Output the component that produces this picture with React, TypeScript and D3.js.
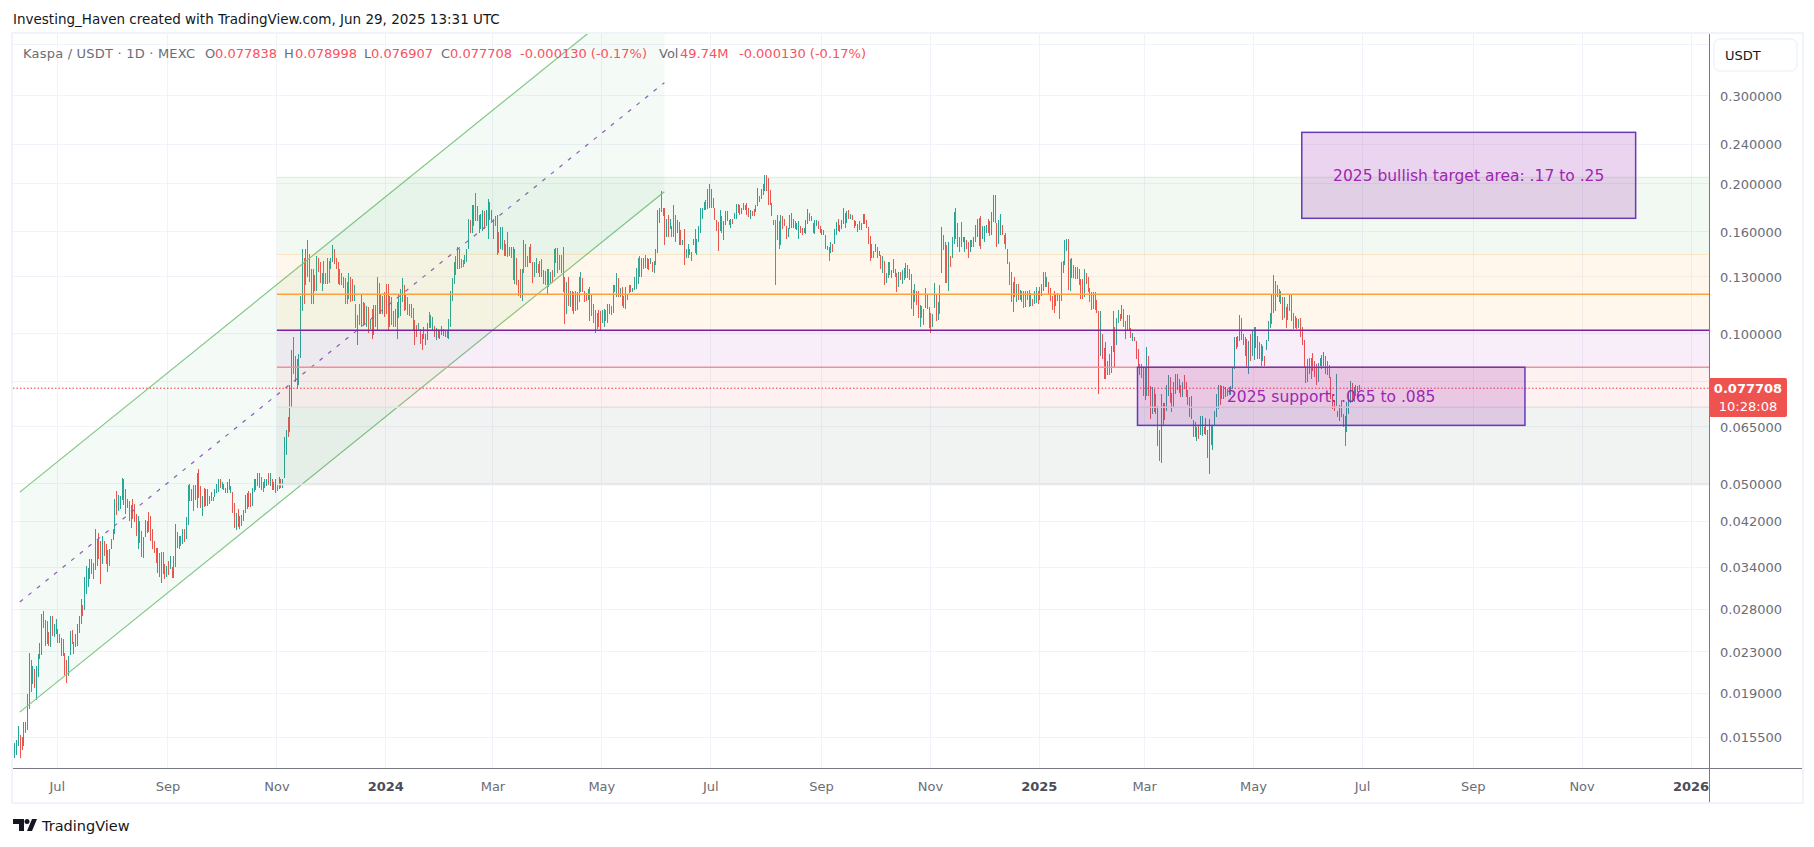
import React from 'react';
import * as d3 from 'd3';

// daily bars as [high, low, close], prices in 1e-4 USDT. open is the previous close
type Bar = [number, number, number];

const jun23: Bar[] = [[151,141,148],[153,143,150],[163,149,160],[157,141,150],[155,146,148],[166,149,163],[166,158,165],[189,160,186],[229,177,225],[222,191,195],[215,198,210],[212,195,200],[215,184,208],[228,205,225],[240,223,236],[274,227,268],[278,257,262],[266,236,245],[265,238,242],[252,236,239],[271,235,265],[272,247,250],[261,246,255],[268,250,262]];
const jul23: Bar[] = [[255,240,244],[250,240,241],[245,226,232],[244,226,228],[229,207,212],[222,199,204],[226,206,224],[253,227,250],[254,238,238],[241,228,240],[250,235,236],[261,236,258],[271,251,268],[293,262,288],[285,271,274],[325,279,320],[342,301,330],[338,310,336],[353,322,350],[353,329,335],[346,322,342],[405,335,378],[388,342,384],[398,353,360],[383,315,345],[393,345,388],[384,358,362],[378,345,350],[368,333,340],[370,342,365],[388,369,385]];
const aug23: Bar[] = [[405,386,402],[466,397,460],[483,433,445],[475,441,470],[473,445,472],[514,463,505],[512,453,470],[488,435,445],[466,447,462],[461,421,432],[453,407,445],[465,425,432],[455,418,425],[435,392,400],[430,369,415],[421,380,388],[402,356,362],[390,355,385],[423,390,415],[421,398,419],[439,400,410],[430,384,392],[405,369,376],[384,363,368],[372,347,355],[371,331,362],[363,325,338],[365,316,350],[365,330,338],[345,322,330],[342,325,338]];
const sep23: Bar[] = [[350,328,332],[358,337,340],[340,324,328],[358,323,352],[415,340,405],[400,372,380],[393,369,372],[393,375,388],[405,378,400],[405,382,390],[428,388,420],[496,414,485],[500,461,470],[488,461,482],[498,441,455],[496,463,485],[525,447,505],[534,469,480],[495,447,455],[472,430,465],[490,450,455],[488,452,478],[488,452,460],[472,455,458],[482,462,475],[470,462,468],[488,470,482],[500,480,495],[512,482,508],[512,490,495]];
const oct23: Bar[] = [[505,488,500],[500,485,496],[490,480,483],[505,478,500],[510,485,490],[495,478,492],[481,437,445],[458,408,415],[437,403,430],[445,410,418],[430,405,425],[432,412,428],[442,420,436],[475,437,470],[478,445,474],[483,450,455],[478,450,452],[490,452,485],[512,482,503],[510,485,506],[525,495,515],[526,490,520],[515,485,495],[505,482,488],[510,490,505],[512,495,508],[525,497,500],[525,495,515],[510,485,490],[505,485,487],[510,480,500]];
const nov23: Bar[] = [[500,484,492],[515,488,508],[512,490,495],[510,490,500],[620,514,612],[640,570,630],[680,620,625],[790,634,780],[925,710,915],[985,830,870],[900,800,830],[890,775,800],[910,790,890],[1190,895,1170],[1480,1110,1400],[1420,1145,1200],[1475,1250,1440],[1540,1300,1500],[1445,1270,1300],[1350,1145,1200],[1350,1145,1340],[1310,1220,1260],[1430,1220,1400],[1420,1330,1350],[1395,1265,1290],[1320,1220,1300],[1400,1260,1280],[1320,1260,1265],[1420,1260,1400],[1400,1265,1390]];
const dec23: Bar[] = [[1420,1350,1395],[1505,1390,1480],[1475,1380,1400],[1420,1350,1360],[1390,1260,1280],[1350,1250,1265],[1320,1250,1255],[1300,1235,1275],[1295,1145,1170],[1270,1145,1250],[1320,1175,1290],[1300,1155,1180],[1285,1165,1175],[1250,1165,1230],[1145,1025,1040],[1090,950,1060],[1145,1040,1050],[1195,1030,1150],[1155,1040,1060],[1150,1045,1055],[1135,1030,1100],[1130,1005,1015],[1070,1020,1040],[1120,975,1000],[1140,995,1100],[1140,1030,1120],[1300,1015,1270],[1265,1095,1150],[1195,1095,1110],[1190,1095,1165],[1210,1080,1150]];
const jan24: Bar[] = [[1260,1095,1130],[1260,1010,1050],[1190,1030,1110],[1185,1040,1060],[1110,1030,1040],[1120,1030,1080],[1155,975,1090],[1195,1075,1090],[1230,1085,1190],[1290,1155,1260],[1250,1110,1130],[1195,1115,1125],[1185,1090,1100],[1145,1085,1130],[1145,1075,1085],[1125,1015,1030],[1065,950,1010],[1040,985,1000],[1050,1010,1015],[1020,955,985],[1000,925,945],[1030,975,990],[1000,950,995],[1050,970,1040],[1105,1025,1035],[1090,1025,1050],[1080,1010,1070],[1035,985,1000],[1025,970,1015],[1020,980,990],[1010,975,1000]];
const feb24: Bar[] = [[1035,995,1000],[1020,990,1015],[1012,985,990],[1010,980,985],[1070,975,1060],[1220,1030,1200],[1290,1165,1240],[1390,1260,1370],[1430,1310,1400],[1490,1350,1460],[1480,1350,1470],[1410,1355,1390],[1405,1360,1380],[1440,1380,1420],[1480,1390,1470],[1695,1475,1650],[1690,1590,1640],[1815,1590,1780],[1815,1640,1790],[1910,1680,1720],[1800,1680,1690],[1730,1590,1630],[1740,1620,1660],[1770,1605,1700],[1760,1620,1650],[1770,1640,1720],[1860,1550,1790],[1835,1690,1720],[1770,1680,1700]];
const mar24: Bar[] = [[1700,1550,1590],[1720,1640,1700],[1730,1440,1480],[1600,1450,1470],[1635,1475,1490],[1635,1470,1620],[1540,1430,1450],[1510,1430,1490],[1600,1425,1460],[1490,1430,1440],[1490,1420,1430],[1490,1280,1320],[1475,1255,1380],[1420,1250,1300],[1280,1190,1200],[1350,1180,1190],[1350,1160,1280],[1540,1325,1500],[1510,1360,1380],[1430,1360,1370],[1490,1385,1470],[1510,1385,1410],[1390,1265,1300],[1390,1300,1320],[1415,1325,1390],[1380,1320,1330],[1400,1300,1385],[1410,1300,1310],[1340,1260,1320],[1338,1250,1270],[1350,1195,1215]];
const apr24: Bar[] = [[1345,1240,1290],[1330,1260,1310],[1340,1265,1280],[1475,1300,1440],[1485,1385,1460],[1485,1320,1400],[1440,1340,1370],[1440,1320,1350],[1490,1210,1230],[1300,1045,1090],[1270,1095,1220],[1300,1135,1180],[1215,1130,1190],[1215,1110,1125],[1210,1095,1180],[1215,1110,1130],[1210,1115,1190],[1300,1155,1240],[1330,1210,1300],[1295,1210,1230],[1215,1155,1170],[1205,1160,1165],[1230,1170,1190],[1240,1060,1200],[1195,1085,1100],[1145,1050,1060],[1115,1005,1020],[1100,1020,1030],[1115,1030,1025],[1110,1010,1015]];
const may24: Bar[] = [[1115,1050,1060],[1120,1030,1090],[1115,1062,1070],[1145,1048,1130],[1145,1095,1138],[1135,1090,1095],[1250,1100,1230],[1250,1210,1240],[1325,1185,1300],[1295,1185,1200],[1235,1185,1225],[1240,1135,1150],[1190,1125,1180],[1240,1120,1210],[1200,1170,1195],[1250,1205,1240],[1250,1210,1220],[1235,1210,1230],[1300,1225,1290],[1355,1230,1340],[1420,1260,1400],[1430,1300,1330],[1420,1300,1400],[1420,1350,1370],[1440,1355,1360],[1415,1350,1355],[1410,1340,1345],[1415,1380,1400],[1395,1330,1340],[1400,1320,1380],[1480,1370,1460]];
const jun24: Bar[] = [[1770,1450,1720],[1785,1670,1760],[1930,1755,1755],[1790,1725,1740],[1790,1505,1540],[1700,1560,1680],[1730,1560,1600],[1700,1620,1680],[1640,1560,1620],[1810,1560,1780],[1730,1525,1600],[1690,1590,1660],[1675,1505,1530],[1615,1505,1510],[1540,1505,1535],[1620,1370,1420],[1480,1420,1470],[1510,1415,1480],[1475,1435,1440],[1460,1400,1450],[1550,1505,1530],[1620,1450,1500],[1550,1435,1540],[1640,1530,1620],[1790,1590,1750],[1790,1700,1770],[1835,1770,1820],[1850,1770,1790],[1950,1780,1900],[2000,1785,1950]];
const jul24: Bar[] = [[1950,1790,1830],[1870,1785,1795],[1790,1690,1710],[1690,1605,1620],[1675,1465,1560],[1770,1605,1720],[1725,1590,1610],[1680,1540,1660],[1765,1650,1740],[1760,1680,1700],[1690,1655,1680],[1695,1625,1690],[1700,1660,1670],[1745,1695,1725],[1820,1700,1790],[1820,1745,1760],[1810,1730,1780],[1785,1740,1782],[1825,1770,1800],[1810,1770,1780],[1825,1730,1760],[1790,1710,1730],[1770,1700,1750],[1760,1725,1735],[1775,1720,1725],[1810,1750,1790],[1960,1800,1940],[1890,1840,1850],[1950,1860,1920],[2000,1900,1980],[2080,1935,2060]];
const aug24: Bar[] = [[2080,1935,1960],[2050,1815,1850],[1945,1810,1820],[1830,1720,1735],[1690,1650,1660],[1690,1250,1560],[1730,1540,1680],[1680,1475,1520],[1730,1505,1680],[1720,1620,1650],[1700,1640,1645],[1640,1545,1575],[1630,1560,1610],[1730,1620,1700],[1745,1630,1650],[1700,1630,1680],[1685,1620,1640],[1665,1610,1655],[1680,1545,1670],[1640,1590,1600],[1625,1580,1590],[1625,1590,1620],[1690,1585,1680],[1775,1660,1760],[1745,1685,1700],[1720,1680,1690],[1665,1590,1600],[1690,1585,1670],[1690,1640,1680],[1680,1620,1640],[1640,1590,1600]];
const sep24: Bar[] = [[1620,1580,1610],[1610,1575,1590],[1575,1480,1560],[1500,1470,1480],[1490,1400,1420],[1525,1450,1510],[1515,1460,1505],[1620,1515,1600],[1675,1575,1650],[1700,1605,1620],[1650,1600,1640],[1690,1620,1680],[1790,1660,1700],[1745,1630,1660],[1760,1670,1740],[1770,1700,1710],[1740,1700,1730],[1730,1690,1695],[1690,1625,1640],[1680,1640,1645],[1660,1600,1650],[1680,1610,1670],[1670,1610,1620],[1740,1660,1700],[1740,1660,1680],[1690,1630,1640],[1635,1515,1530],[1570,1400,1430],[1510,1415,1440],[1465,1420,1460]];
const oct24: Bar[] = [[1510,1460,1490],[1495,1415,1430],[1465,1430,1440],[1435,1350,1370],[1430,1320,1400],[1400,1250,1290],[1320,1265,1310],[1395,1295,1320],[1395,1310,1315],[1340,1290,1330],[1410,1320,1380],[1350,1300,1310],[1320,1210,1240],[1330,1240,1290],[1330,1280,1285],[1340,1260,1330],[1355,1280,1350],[1385,1290,1370],[1370,1295,1310],[1345,1280,1290],[1315,1120,1150],[1225,1085,1180],[1255,1155,1220],[1220,1140,1160],[1220,1075,1090],[1140,1030,1100],[1135,1075,1085],[1120,1040,1100],[1235,1125,1200],[1195,1120,1130],[1130,1025,1040]];
const nov24: Bar[] = [[1100,1005,1015],[1095,1030,1080],[1265,1125,1240],[1200,1060,1090],[1155,1065,1100],[1250,1095,1220],[1635,1320,1580],[1575,1470,1500],[1530,1265,1480],[1505,1265,1300],[1525,1220,1440],[1430,1360,1400],[1560,1415,1500],[1755,1515,1720],[1785,1550,1600],[1670,1490,1520],[1560,1460,1550],[1675,1490,1510],[1560,1525,1530],[1560,1460,1540],[1540,1480,1490],[1525,1415,1450],[1540,1460,1520],[1540,1490,1500],[1560,1490,1550],[1650,1525,1630],[1700,1560,1650],[1705,1500,1680],[1720,1480,1550],[1640,1545,1620]];
const dec24: Bar[] = [[1640,1530,1630],[1650,1590,1640],[1700,1590,1620],[1680,1570,1660],[1755,1575,1720],[1893,1675,1860],[1893,1670,1700],[1670,1490,1600],[1690,1515,1640],[1735,1575,1650],[1650,1575,1590],[1580,1515,1570],[1590,1480,1500],[1480,1380,1400],[1395,1250,1290],[1330,1155,1190],[1270,1105,1220],[1300,1185,1200],[1255,1155,1230],[1255,1170,1185],[1225,1170,1210],[1215,1155,1170],[1220,1125,1140],[1215,1130,1200],[1215,1170,1180],[1225,1130,1150],[1205,1135,1170],[1175,1135,1140],[1215,1145,1190],[1240,1150,1210],[1215,1145,1190]];
const jan25: Bar[] = [[1240,1170,1215],[1260,1190,1240],[1330,1220,1300],[1330,1240,1250],[1300,1240,1280],[1270,1200,1220],[1235,1165,1180],[1190,1115,1170],[1215,1100,1120],[1195,1135,1180],[1205,1165,1175],[1195,1070,1090],[1395,1165,1350],[1400,1320,1370],[1540,1370,1480],[1545,1465,1530],[1550,1225,1300],[1410,1220,1380],[1415,1295,1340],[1370,1295,1310],[1360,1285,1300],[1360,1285,1340],[1350,1250,1270],[1285,1175,1190],[1285,1175,1180],[1350,1185,1300],[1320,1260,1270],[1300,1210,1220],[1235,1155,1170],[1210,1115,1130],[1210,1120,1140]];
const feb25: Bar[] = [[1210,1115,1130],[1170,1100,1120],[1110,757,860],[1110,900,950],[1000,890,900],[935,810,830],[960,810,900],[880,825,850],[910,825,840],[945,835,900],[1110,920,1060],[1030,855,920],[1075,950,1000],[1115,1050,1090],[1095,1062,1070],[1140,1070,1120],[1120,1030,1050],[1062,975,1000],[1090,1010,1070],[1090,1015,1040],[1025,980,990],[1005,965,1000],[985,965,970],[965,890,900],[930,855,870],[870,825,830],[870,815,825],[855,750,780]];
const mar25: Bar[] = [[855,735,800],[940,750,880],[900,750,770],[785,675,700],[780,690,730],[775,695,710],[755,690,700],[715,595,610],[640,555,570],[755,550,720],[725,655,680],[725,670,675],[790,700,770],[825,750,800],[820,725,745],[760,695,740],[800,710,780],[830,755,810],[830,770,785],[810,760,770],[790,745,760],[800,745,790],[825,775,785],[800,745,750],[770,720,730],[745,680,700],[750,675,690],[670,620,640],[665,620,630],[650,610,640],[655,615,625]];
const apr25: Bar[] = [[685,625,660],[682,622,670],[650,628,640],[677,625,630],[640,562,575],[675,522,640],[655,597,610],[655,583,640],[700,652,690],[757,680,740],[790,707,770],[790,720,730],[785,740,770],[785,740,750],[780,745,772],[775,750,755],[780,752,770],[785,752,780],[855,775,840],[985,850,960],[985,930,940],[990,940,980],[1090,965,1050],[1075,970,1000],[1000,950,960],[985,900,920],[975,855,870],[965,830,940],[1000,880,930],[1010,900,960]];
const may25: Bar[] = [[1030,885,980],[1030,935,1010],[990,890,920],[960,890,940],[955,860,880],[945,880,900],[900,860,870],[970,925,950],[1060,965,1040],[1100,1025,1080],[1195,1045,1150],[1310,1100,1200],[1277,1110,1230],[1250,1185,1215],[1230,1155,1180],[1220,1145,1200],[1185,1065,1100],[1185,1075,1150],[1130,1025,1050],[1145,1065,1110],[1195,1110,1160],[1200,1060,1090],[1100,1020,1060],[1085,1025,1040],[1075,1020,1030],[1070,1025,1060],[1075,985,1000],[1030,950,965],[970,855,880],[860,795,810],[890,800,850]];
const jun25: Bar[] = [[895,830,870],[895,810,860],[915,840,850],[880,820,835],[870,790,820],[875,800,850],[895,860,880],[905,850,860],[920,860,905],[900,830,850],[880,825,840],[865,815,830],[820,740,760],[755,705,720],[735,700,710],[830,715,800],[700,680,690],[720,668,700],[735,680,690],[690,650,660],[685,595,610],[730,634,690],[760,690,740],[805,725,780],[795,730,750],[780,730,770],[790,750,776],[785,765,778],[790,769,777]];

const barMonths: [number, Bar[]][] = [
  [Date.UTC(2023, 5, 7), jun23], [Date.UTC(2023, 6, 1), jul23], [Date.UTC(2023, 7, 1), aug23],
  [Date.UTC(2023, 8, 1), sep23], [Date.UTC(2023, 9, 1), oct23], [Date.UTC(2023, 10, 1), nov23],
  [Date.UTC(2023, 11, 1), dec23], [Date.UTC(2024, 0, 1), jan24], [Date.UTC(2024, 1, 1), feb24],
  [Date.UTC(2024, 2, 1), mar24], [Date.UTC(2024, 3, 1), apr24], [Date.UTC(2024, 4, 1), may24],
  [Date.UTC(2024, 5, 1), jun24], [Date.UTC(2024, 6, 1), jul24], [Date.UTC(2024, 7, 1), aug24],
  [Date.UTC(2024, 8, 1), sep24], [Date.UTC(2024, 9, 1), oct24], [Date.UTC(2024, 10, 1), nov24],
  [Date.UTC(2024, 11, 1), dec24], [Date.UTC(2025, 0, 1), jan25], [Date.UTC(2025, 1, 1), feb25],
  [Date.UTC(2025, 2, 1), mar25], [Date.UTC(2025, 3, 1), apr25], [Date.UTC(2025, 4, 1), may25],
  [Date.UTC(2025, 5, 1), jun25],
];

const priceTicks = [0.3, 0.24, 0.2, 0.16, 0.13, 0.1, 0.08, 0.065, 0.05, 0.042, 0.034, 0.028, 0.023, 0.019, 0.0155];
const gridOnlyPrices = [0.38];
const timeTicks: [number, string, boolean][] = [
  [Date.UTC(2023, 6, 1), 'Jul', false], [Date.UTC(2023, 8, 1), 'Sep', false], [Date.UTC(2023, 10, 1), 'Nov', false],
  [Date.UTC(2024, 0, 1), '2024', true], [Date.UTC(2024, 2, 1), 'Mar', false], [Date.UTC(2024, 4, 1), 'May', false],
  [Date.UTC(2024, 6, 1), 'Jul', false], [Date.UTC(2024, 8, 1), 'Sep', false], [Date.UTC(2024, 10, 1), 'Nov', false],
  [Date.UTC(2025, 0, 1), '2025', true], [Date.UTC(2025, 2, 1), 'Mar', false], [Date.UTC(2025, 4, 1), 'May', false],
  [Date.UTC(2025, 6, 1), 'Jul', false], [Date.UTC(2025, 8, 1), 'Sep', false], [Date.UTC(2025, 10, 1), 'Nov', false],
  [Date.UTC(2026, 0, 1), '2026', true],
];

// fib bands: [top price, bottom price, fill, top border, border width]
const fibBands: [number, number, string, string, number][] = [
  [0.2058, 0.1442, 'rgba(76,175,80,0.07)', 'rgba(76,175,80,0.18)', 1],
  [0.1442, 0.1015, 'rgba(255,152,0,0.08)', 'rgba(255,152,0,0.2)', 1],
  [0.1015, 0.0856, 'rgba(156,39,176,0.08)', '#7b1fa2', 1.5],
  [0.0856, 0.0712, 'rgba(242,54,69,0.07)', '#ee9298', 1.5],
  [0.0712, 0.0498, 'rgba(80,100,90,0.08)', '#e0e3e1', 1.5],
];
const fibOrangeLevel = 0.1199;
const fibStart = Date.UTC(2023, 10, 1);

const channelStart = Date.UTC(2023, 5, 10);
const channelEnd = Date.UTC(2024, 5, 5);
const channelUpper = [0.04809, 0.532];
const channelMiddle = [0.02895, 0.3186];
const channelLower = [0.01741, 0.1926];

const lastPrice = 0.077708;

const W = 1814;
const H = 847;
const plot = { left: 13, right: 1709, top: 34, bottom: 768, frameRight: 1802, frameBottom: 802 };
const FONT = '"DejaVu Sans", sans-serif';
const RED = '#ef5350';
const GREEN = '#26a69a';
const LEGEND_RED = '#f7525f';
const AXIS_TEXT = '#6a6d78';

const x = d3.scaleUtc().domain([Date.UTC(2023, 6, 1), Date.UTC(2026, 0, 1)]).range([57.3, 1691]);
const y = d3.scaleLog().domain([0.3, 0.0155]).range([95.7, 737.3]);

const DAY = 864e5;
const bars = barMonths.flatMap(([start, list]) =>
  list.map((b, i) => ({ t: start + i * DAY, high: b[0] / 1e4, low: b[1] / 1e4, close: b[2] / 1e4 })),
);

const channelArea = d3
  .area<number>()
  .x((_, i) => x(i === 0 ? channelStart : channelEnd))
  .y0((_, i) => y(channelLower[i]))
  .y1((_, i) => y(channelUpper[i]));

const legendItems: [number, string, string][] = [
  [23, 'Kaspa / USDT · 1D · MEXC', AXIS_TEXT],
  [205, 'O', AXIS_TEXT], [215, '0.077838', LEGEND_RED],
  [284, 'H', AXIS_TEXT], [295, '0.078998', LEGEND_RED],
  [364, 'L', AXIS_TEXT], [371, '0.076907', LEGEND_RED],
  [441, 'C', AXIS_TEXT], [450, '0.077708', LEGEND_RED],
  [520, '-0.000130 (-0.17%)', LEGEND_RED],
  [659, 'Vol', AXIS_TEXT], [680, '49.74M', LEGEND_RED],
  [739, '-0.000130 (-0.17%)', LEGEND_RED],
];

const Box: React.FC<{ d0: number; d1: number; p0: number; p1: number; label: string }> = ({ d0, d1, p0, p1, label }) => (
  <g>
    <rect
      x={x(d0)} y={y(p0)} width={x(d1) - x(d0)} height={y(p1) - y(p0)}
      fill="rgba(156,39,176,0.2)" stroke="#673ab7" strokeWidth={1.5}
    />
    <text
      x={(x(d0) + x(d1)) / 2} y={(y(p0) + y(p1)) / 2 + 6}
      textAnchor="middle" fontSize={15.5} fill="#9c27b0"
    >
      {label}
    </text>
  </g>
);

const App: React.FC = () => (
  <svg width={W} height={H} style={{ position: 'absolute', left: 0, top: 0, background: '#fff' }} fontFamily={FONT}>
    <defs>
      <clipPath id="plot">
        <rect x={plot.left} y={plot.top} width={plot.right - plot.left} height={plot.bottom - plot.top} />
      </clipPath>
    </defs>

    <text x={13} y={24} fontSize={13.5} fill="#131722">
      Investing_Haven created with TradingView.com, Jun 29, 2025 13:31 UTC
    </text>

    <rect
      x={plot.left - 1} y={plot.top - 1}
      width={plot.frameRight - plot.left + 2} height={plot.frameBottom - plot.top + 2}
      fill="none" stroke="#f0f3fa" strokeWidth={2}
    />

    {/* grid */}
    <g stroke="#f0f3fa" strokeWidth={1} shapeRendering="crispEdges">
      {[...priceTicks, ...gridOnlyPrices].map((p) => (
        <line key={p} x1={plot.left} x2={plot.right} y1={y(p)} y2={y(p)} />
      ))}
      {timeTicks.map(([t]) => (
        <line key={t} x1={x(t)} x2={x(t)} y1={plot.top} y2={plot.bottom} />
      ))}
    </g>

    {/* candles */}
    <g strokeWidth={1} shapeRendering="crispEdges">
      {bars.map((b, i) => {
        const prev = i > 0 ? bars[i - 1].close : 0;
        const px = Math.round(x(b.t)) + 0.5;
        return (
          <line key={b.t} x1={px} x2={px} y1={y(b.high)} y2={y(b.low)} stroke={b.close >= prev ? GREEN : RED} />
        );
      })}
    </g>

    <g clipPath="url(#plot)">
      {/* channel */}
      <path d={channelArea([0, 1]) ?? ''} fill="rgba(76,175,80,0.06)" />
      <line x1={x(channelStart)} x2={x(channelEnd)} y1={y(channelUpper[0])} y2={y(channelUpper[1])} stroke="#81c784" strokeWidth={1.2} />
      <line x1={x(channelStart)} x2={x(channelEnd)} y1={y(channelLower[0])} y2={y(channelLower[1])} stroke="#81c784" strokeWidth={1.2} />
      <line
        x1={x(channelStart)} x2={x(channelEnd)} y1={y(channelMiddle[0])} y2={y(channelMiddle[1])}
        stroke="#8e5cb8" strokeWidth={1.2} strokeDasharray="4 7"
      />

      {/* fib bands */}
      {fibBands.map(([top, bottom, fill, border, bw]) => (
        <g key={top}>
          <rect x={x(fibStart)} y={y(top)} width={plot.right - x(fibStart)} height={y(bottom) - y(top)} fill={fill} />
          <line x1={x(fibStart)} x2={plot.right} y1={y(top)} y2={y(top)} stroke={border} strokeWidth={bw} />
        </g>
      ))}
      <line x1={x(fibStart)} x2={plot.right} y1={y(0.0498)} y2={y(0.0498)} stroke="#e6e8ea" strokeWidth={1.5} />
      <line x1={x(fibStart)} x2={plot.right} y1={y(fibOrangeLevel)} y2={y(fibOrangeLevel)} stroke="#ffa040" strokeWidth={1.5} />

      {/* last price */}
      <line
        x1={plot.left} x2={plot.right} y1={y(lastPrice)} y2={y(lastPrice)}
        stroke="#f23645" strokeWidth={1} strokeDasharray="1.5 2"
      />

      <Box d0={Date.UTC(2025, 4, 28)} d1={Date.UTC(2025, 11, 1)} p0={0.2533} p1={0.1703} label="2025 bullish target area: .17 to .25" />
      <Box d0={Date.UTC(2025, 1, 25)} d1={Date.UTC(2025, 8, 30)} p0={0.0856} p1={0.06546} label="2025 support: .065 to .085" />
    </g>

    {/* legend */}
    <g fontSize={13}>
      {legendItems.map(([lx, label, color], i) => (
        <text key={lx} x={lx} y={58} fill={color} textLength={i === 0 ? 172 : undefined}>{label}</text>
      ))}
    </g>

    {/* axes */}
    <g stroke="#787b86" strokeWidth={1} shapeRendering="crispEdges">
      <line x1={plot.left} x2={plot.frameRight} y1={plot.bottom} y2={plot.bottom} />
      <line x1={plot.right} x2={plot.right} y1={plot.top} y2={plot.frameBottom} />
    </g>
    <g fontSize={13} fill={AXIS_TEXT} textAnchor="middle">
      {timeTicks.map(([t, label, bold]) => (
        <text key={t} x={x(t)} y={791} fontWeight={bold ? 700 : 400} fill={bold ? '#4a4d58' : AXIS_TEXT}>{label}</text>
      ))}
    </g>
    <g fontSize={13} fill={AXIS_TEXT}>
      {priceTicks.map((p) => (
        <text key={p} x={1720} y={y(p) + 5}>{p.toFixed(6)}</text>
      ))}
    </g>

    <rect x={1714} y={39} width={83} height={32} rx={6} fill="#fff" stroke="#f0f3fa" strokeWidth={1.5} />
    <text x={1725} y={60} fontSize={13} fill="#131722">USDT</text>

    {/* last price label */}
    <rect x={plot.right} y={378} width={78} height={39} rx={2} fill={RED} />
    <text x={1748} y={393} fontSize={13} fontWeight={700} fill="#fff" textAnchor="middle">0.077708</text>
    <text x={1748} y={411} fontSize={13} fill="#fff" textAnchor="middle">10:28:08</text>

    {/* logo */}
    <g fill="#131722">
      <path d="M13 819h11v12h-5v-7h-6z" />
      <circle cx={27} cy={821.5} r={2.5} />
      <path d="M32 819h5l-5 12h-5z" />
      <text x={42} y={831} fontSize={14.5}>TradingView</text>
    </g>
  </svg>
);

export default App;
